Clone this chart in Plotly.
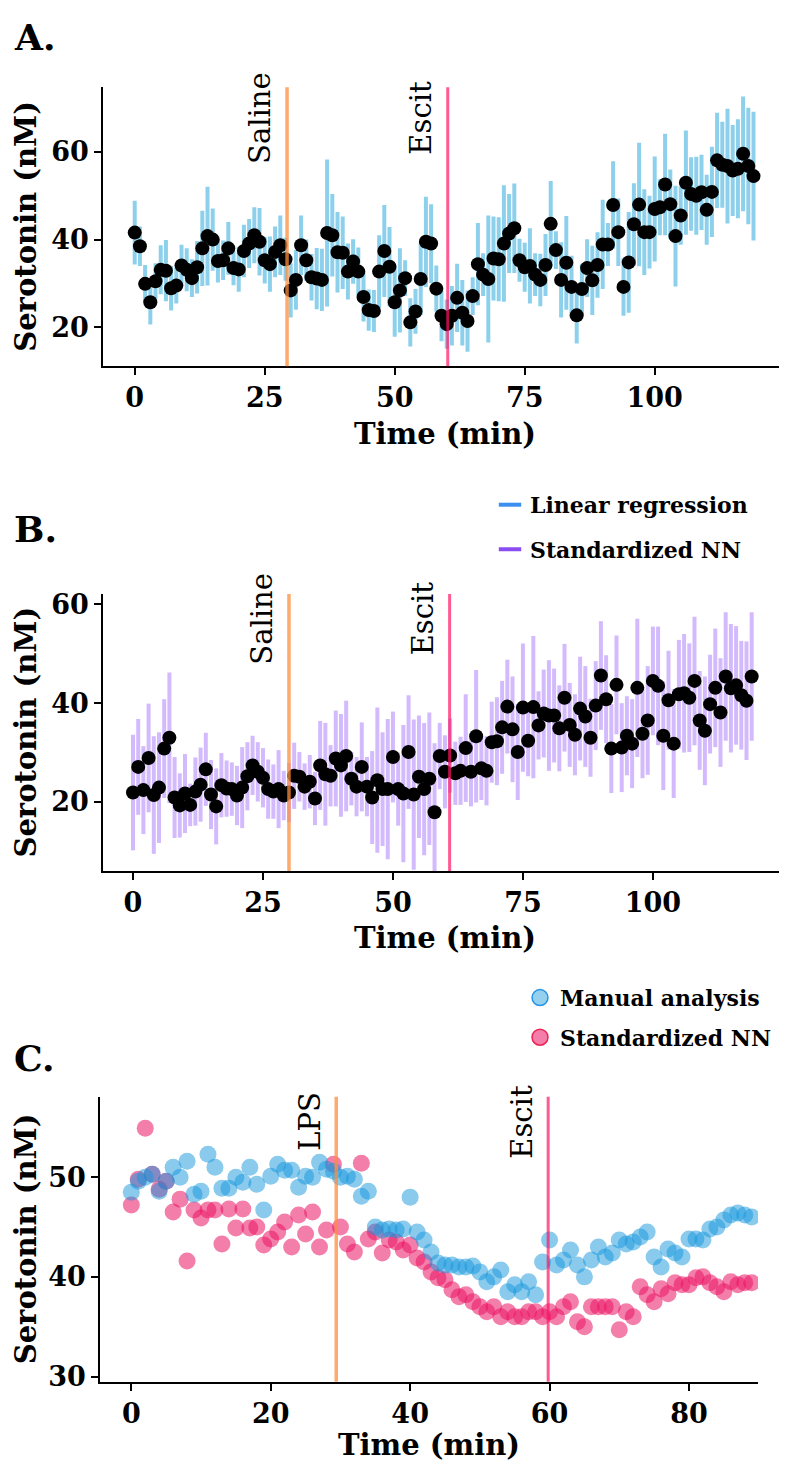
import plotly.graph_objects as go

W, H = 787, 1463

# ---------------- data ----------------
a_time = list(range(120))
a_serotonin = [41.6, 38.5, 29.9, 25.7, 30.5, 33.1, 32.9, 28.9, 29.5, 34.1,
               33.1, 31.2, 33.7, 38.0, 40.8, 40.0, 35.1, 35.3, 38.0, 33.5,
               33.2, 37.4, 39.1, 41.0, 39.5, 35.3, 34.4, 37.2, 38.7, 35.5,
               28.4, 30.8, 38.7, 35.3, 31.4, 31.1, 30.8, 41.5, 41.0, 37.1,
               37.0, 32.7, 35.0, 32.7, 26.9, 23.9, 23.7, 32.7, 37.4, 33.8,
               25.7, 28.4, 31.2, 21.1, 23.6, 31.0, 39.5, 39.1, 28.8, 22.6,
               20.7, 22.6, 26.7, 23.3, 21.4, 27.1, 34.4, 32.0, 31.0, 35.7,
               35.5, 39.1, 41.4, 42.6, 35.3, 33.7, 34.0, 32.0, 30.8, 34.2,
               43.6, 37.6, 30.8, 34.7, 29.2, 22.7, 28.7, 33.5, 30.7, 34.2,
               38.9, 38.9, 47.9, 41.7, 29.2, 34.8, 43.5, 48.0, 41.7, 41.7,
               47.0, 47.4, 52.6, 48.1, 40.8, 45.5, 53.0, 50.4, 50.0, 50.8,
               46.8, 50.9, 58.1, 57.1, 56.8, 55.8, 56.2, 59.6, 56.8, 54.5]
a_err = [7.3, 4.5, 4.3, 5.1, 4.1, 5.6, 7.0, 5.1, 4.1, 4.7,
         4.9, 4.3, 6.0, 8.6, 11.3, 7.1, 4.9, 4.5, 6.0, 3.9,
         5.1, 6.0, 5.6, 6.4, 7.7, 5.3, 6.3, 5.8, 6.8, 4.9,
         6.2, 6.8, 6.8, 4.7, 5.3, 7.0, 7.1, 16.8, 9.4, 9.2,
         8.3, 6.4, 5.1, 5.5, 5.6, 4.7, 4.8, 8.3, 10.5, 9.1,
         7.9, 9.6, 4.1, 5.5, 5.1, 8.3, 10.3, 9.0, 5.3, 5.8,
         5.6, 6.8, 7.8, 7.5, 7.0, 4.3, 9.4, 4.9, 14.5, 9.6,
         9.6, 13.3, 9.0, 10.2, 4.9, 5.6, 8.6, 4.9, 6.0, 7.1,
         9.8, 4.3, 8.6, 10.7, 7.1, 6.4, 5.8, 6.6, 7.9, 7.5,
         10.2, 4.9, 10.0, 7.7, 6.6, 11.5, 9.4, 14.1, 9.8, 8.3,
         12.0, 6.4, 11.6, 7.9, 11.5, 6.7, 11.9, 8.4, 8.9, 8.6,
         8.0, 10.3, 10.9, 9.8, 13.1, 10.4, 11.3, 13.1, 13.3, 14.7]

b_time = list(range(120))
b_serotonin = [21.9, 27.1, 22.4, 28.9, 21.4, 22.9, 30.8, 33.0, 20.9, 19.3,
               21.7, 19.4, 22.1, 23.5, 26.6, 21.5, 19.1, 23.4, 22.7, 22.6,
               21.3, 22.9, 25.2, 27.4, 26.1, 24.9, 22.6, 22.1, 22.6, 21.3,
               21.9, 25.3, 25.1, 23.1, 24.1, 20.7, 27.4, 25.6, 25.3, 28.8,
               27.4, 29.3, 24.7, 23.1, 27.1, 23.1, 20.9, 24.4, 22.6, 22.6,
               29.1, 22.6, 21.7, 30.1, 21.5, 25.1, 22.6, 24.7, 17.9, 29.3,
               26.1, 29.4, 25.8, 26.3, 30.9, 26.1, 33.3, 26.8, 26.3, 32.1,
               32.3, 35.1, 39.3, 34.7, 30.1, 39.1, 32.4, 39.2, 35.5, 37.9,
               37.5, 37.5, 34.9, 41.1, 35.6, 33.6, 38.9, 37.3, 33.0, 39.5,
               45.6, 40.8, 30.8, 43.7, 31.0, 33.4, 31.8, 43.1, 33.8, 36.5,
               44.5, 43.5, 33.4, 40.6, 31.8, 41.8, 42.0, 41.1, 44.5, 36.5,
               34.4, 39.8, 43.1, 38.1, 45.4, 43.0, 43.6, 41.6, 40.5, 45.4]
b_err = [11.7, 9.7, 8.9, 11.0, 11.9, 11.2, 10.0, 13.2, 8.2, 6.5,
         8.0, 4.3, 6.9, 7.5, 7.4, 7.0, 7.7, 6.5, 5.7, 5.4,
         6.0, 8.2, 6.9, 6.0, 6.0, 6.0, 6.0, 5.5, 7.9, 5.0,
         6.0, 6.7, 5.0, 4.7, 5.4, 5.4, 9.0, 10.4, 6.2, 9.7,
         10.4, 11.2, 5.4, 6.0, 9.0, 6.0, 9.4, 14.7, 11.5, 14.2,
         9.2, 7.4, 13.9, 11.5, 15.2, 12.4, 13.4, 13.4, 14.0, 6.7,
         7.4, 7.5, 6.4, 6.9, 10.9, 7.0, 13.4, 6.4, 7.0, 8.2,
         8.9, 9.4, 9.5, 10.7, 9.7, 13.0, 7.2, 14.4, 6.9, 8.9,
         11.2, 9.5, 8.7, 10.9, 8.5, 8.2, 10.5, 10.2, 7.9, 9.0,
         11.0, 8.9, 9.0, 10.0, 9.0, 8.0, 9.0, 14.0, 9.0, 11.0,
         11.0, 12.0, 11.0, 10.0, 11.0, 11.0, 12.0, 11.0, 13.0, 10.0,
         11.0, 10.0, 12.0, 11.0, 13.0, 13.0, 12.0, 11.0, 12.0, 13.0]

c_time = list(range(90))
c_manual = [48.5, 49.6, 50.0, 50.3, 48.6, 49.6, 51.0, 50.0, 51.6, 48.3,
            48.6, 52.3, 51.0, 48.9, 48.9, 50.0, 49.5, 51.0, 49.3, 46.7,
            50.1, 51.3, 50.7, 50.7, 49.0, 50.1, 50.0, 51.5, 50.8, 50.6,
            50.0, 50.1, 49.8, 48.1, 48.6, 45.0, 44.7, 44.8, 44.7, 44.8,
            48.0, 44.5, 43.7, 42.5, 41.4, 41.2, 41.2, 41.0, 41.0, 41.1,
            40.5, 39.5, 40.0, 40.7, 38.5, 39.2, 38.5, 39.5, 38.2, 41.5,
            43.7, 41.2, 41.7, 42.7, 41.2, 40.0, 41.7, 43.0, 42.0, 42.4,
            43.7, 43.3, 43.5, 44.0, 44.5, 42.0, 41.0, 42.8, 42.4, 42.0,
            43.8, 43.8, 43.7, 44.8, 45.0, 45.7, 46.2, 46.4, 46.2, 46.0]
c_nn = [47.2, 49.8, 54.9, 50.3, 48.8, 49.6, 46.5, 47.8, 41.6, 46.7,
        45.9, 46.7, 46.7, 43.3, 46.8, 44.9, 46.8, 44.9, 45.0, 43.2,
        43.8, 44.5, 45.5, 43.0, 46.2, 44.3, 46.5, 43.0, 44.7, 51.3,
        45.0, 43.3, 42.5, 51.4, 43.8, 44.5, 42.4, 43.7, 43.5, 42.7,
        43.2, 41.9, 41.5, 40.5, 39.9, 39.7, 38.7, 38.0, 38.2, 37.5,
        37.0, 36.5, 37.0, 36.0, 36.5, 36.0, 36.0, 36.5, 36.5, 36.0,
        36.5, 36.0, 37.0, 37.5, 35.5, 35.0, 37.0, 37.0, 37.0, 37.0,
        34.7, 36.5, 36.0, 39.0, 38.2, 37.5, 38.8, 38.3, 39.4, 39.2,
        39.2, 39.9, 40.0, 39.4, 39.0, 38.5, 39.5, 39.2, 39.4, 39.4]

a_event_names = ["Saline", "Escit"]
a_event_times = [29.3, 60.2]
b_event_names = ["Saline", "Escit"]
b_event_times = [30.0, 60.9]
c_event_names = ["LPS", "Escit"]
c_event_times = [29.4, 59.8]

a_xticks = [0, 25, 50, 75, 100]
a_yticks = [20, 40, 60]
b_xticks = [0, 25, 50, 75, 100]
b_yticks = [20, 40, 60]
c_xticks = [0, 20, 40, 60, 80]
c_yticks = [30, 40, 50]

panel_letters = ["A.", "B.", "C."]
b_legend_names = ["Linear regression", "Standardized NN"]
c_legend_names = ["Manual analysis", "Standardized NN"]

# ---------------- styles ----------------
FAM = "DejaVu Serif"
EVENT_COLORS = ["rgba(253,141,60,0.75)", "rgba(255,20,100,0.7)"]
EVENT_WIDTHS = [3.5, 3]


def px_x(p):
    return p / W


def px_y(p):
    return 1 - p / H


def bold(size):
    return dict(family=FAM, size=size, color="black", weight="bold")


# panel geometry in pixels: x0, x1, ytop, ybottom
panels = [
    dict(x0=95, x1=778, top=75, bot=357, xr=[-6.1, 125.25], yr=[11.06, 74.8],
         xt=a_xticks, yt=a_yticks, letter_y=24, xtitle_y=425, ev_y=106,
         ev_names=a_event_names, ev_times=a_event_times),
    dict(x0=95, x1=778, top=587, bot=867, xr=[-5.77, 125.6], yr=[6.0, 62.1],
         xt=b_xticks, yt=b_yticks, letter_y=521, xtitle_y=935, ev_y=612,
         ev_names=b_event_names, ev_times=b_event_times),
    dict(x0=92, x1=750, top=1095, bot=1383, xr=[-4.49, 89.9], yr=[29.47, 58.07],
         xt=c_xticks, yt=c_yticks, letter_y=1056, xtitle_y=1447, ev_y=1120,
         ev_names=c_event_names, ev_times=c_event_times),
]

fig = go.Figure()

# Panel A
fig.add_trace(go.Scatter(
    x=a_time, y=a_serotonin, mode="markers", xaxis="x", yaxis="y",
    marker=dict(color="black", size=14),
    error_y=dict(type="data", array=a_err, visible=True, thickness=4, width=0,
                 color="#8DD0EC"),
    showlegend=False))

# Panel B
fig.add_trace(go.Scatter(
    x=b_time, y=b_serotonin, mode="markers", xaxis="x2", yaxis="y2",
    marker=dict(color="black", size=14),
    error_y=dict(type="data", array=b_err, visible=True, thickness=4, width=0,
                 color="rgba(150,90,250,0.42)"),
    showlegend=False))

# Panel C
fig.add_trace(go.Scatter(
    x=c_time, y=c_nn, mode="markers", xaxis="x3", yaxis="y3",
    marker=dict(color="rgba(235,20,100,0.55)", size=17, line=dict(width=0)),
    showlegend=False))
fig.add_trace(go.Scatter(
    x=c_time, y=c_manual, mode="markers", xaxis="x3", yaxis="y3",
    marker=dict(color="rgba(20,150,220,0.5)", size=17, line=dict(width=0)),
    showlegend=False))

# legend entries
b_leg_colors = ["#3C8EF0", "#8A4DF0"]
for i, (name, col) in enumerate(zip(b_legend_names, b_leg_colors)):
    fig.add_trace(go.Scatter(
        x=[None], y=[None], mode="markers", name=name, xaxis="x2", yaxis="y2",
        marker=dict(symbol="line-ew", size=16, line=dict(color=col, width=4)),
        legend="legend" if i == 0 else "legend2"))
c_leg_fill = ["rgba(20,150,220,0.45)", "rgba(235,20,100,0.55)"]
c_leg_line = ["rgba(20,140,230,0.9)", "rgba(235,20,70,0.9)"]
for i, name in enumerate(c_legend_names):
    fig.add_trace(go.Scatter(
        x=[None], y=[None], mode="markers", name=name, xaxis="x3", yaxis="y3",
        marker=dict(size=16, color=c_leg_fill[i], line=dict(color=c_leg_line[i], width=1.5)),
        legend="legend3" if i == 0 else "legend4"))

shapes = []
annotations = []
layout_axes = {}
for k, p in enumerate(panels):
    sx = "" if k == 0 else str(k + 1)
    xa, ya = "x" + sx, "y" + sx
    common = dict(showline=True, linecolor="black", linewidth=1.5, ticks="outside",
                  ticklen=7, tickwidth=1.5, tickcolor="black", showgrid=False,
                  zeroline=False, mirror=False, tickfont=bold(27))
    layout_axes["xaxis" + sx] = dict(
        domain=[px_x(p["x0"]), px_x(p["x1"])], range=p["xr"], anchor=ya,
        tickmode="array", tickvals=p["xt"], **common)
    layout_axes["yaxis" + sx] = dict(
        domain=[px_y(p["bot"]), px_y(p["top"])], range=p["yr"], anchor=xa,
        tickmode="array", tickvals=p["yt"], **common)

    for j, (nm, t) in enumerate(zip(p["ev_names"], p["ev_times"])):
        shapes.append(dict(type="line", xref=xa, yref=ya + " domain", x0=t, x1=t, y0=0, y1=1,
                           line=dict(color=EVENT_COLORS[j], width=EVENT_WIDTHS[j]), layer="above"))
        annotations.append(dict(text=nm, xref=xa, yref="paper", x=t, y=px_y(p["ev_y"]),
                                xanchor="right", yanchor="middle", xshift=-8, textangle=-90,
                                showarrow=False,
                                font=dict(family=FAM, size=29, color="black")))

    annotations.append(dict(text=panel_letters[k], xref="paper", yref="paper",
                            x=px_x(4), y=px_y(p["letter_y"]), xanchor="left", yanchor="middle",
                            showarrow=False, font=bold(36)))
    annotations.append(dict(text="Serotonin (nM)", xref="paper", yref="paper",
                            x=px_x(18), y=px_y((p["top"] + p["bot"]) / 2), xanchor="center",
                            yanchor="middle", textangle=-90, showarrow=False, font=bold(29)))
    annotations.append(dict(text="Time (min)", xref="paper", yref="paper",
                            x=px_x((p["x0"] + p["x1"]) / 2), y=px_y(p["xtitle_y"]),
                            xanchor="center", yanchor="middle", showarrow=False, font=bold(29)))

leg_common = dict(xanchor="left", yanchor="middle", bgcolor="rgba(0,0,0,0)",
                  font=bold(22), itemwidth=30, borderwidth=0)

fig.update_layout(
    width=W, height=H,
    margin=dict(l=0, r=0, t=0, b=0),
    paper_bgcolor="white", plot_bgcolor="white",
    shapes=shapes, annotations=annotations,
    legend=dict(x=px_x(482), y=px_y(497), **leg_common),
    legend2=dict(x=px_x(482), y=px_y(542), **leg_common),
    legend3=dict(x=px_x(512), y=px_y(995), **leg_common),
    legend4=dict(x=px_x(512), y=px_y(1035), **leg_common),
    **layout_axes,
)

fig.write_html("out.html")
